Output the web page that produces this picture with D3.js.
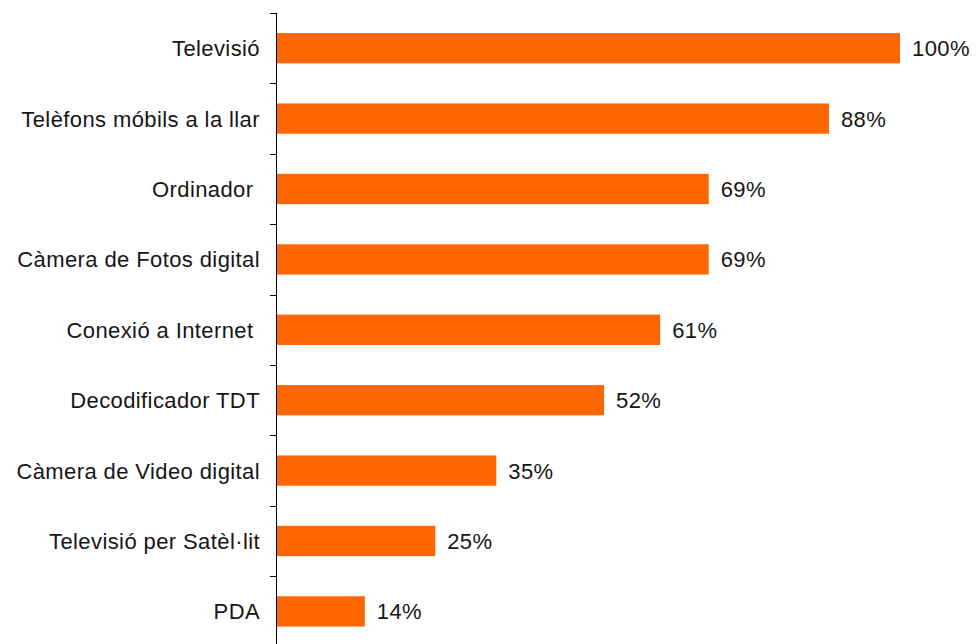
<!DOCTYPE html>
<html><head><meta charset="utf-8">
<script src="https://cdn.jsdelivr.net/npm/d3@7"></script>
<style>body{margin:0;background:#fff}svg text{font-family:"Liberation Sans",Arial,sans-serif;fill:#161616;white-space:pre}</style>
</head><body><svg id="c" width="976" height="644"></svg>
<script>
const categories = ["Televisió","Telèfons móbils a la llar","Ordinador ","Càmera de Fotos digital","Conexió a Internet ","Decodificador TDT","Càmera de Video digital","Televisió per Satèl·lit","PDA"];
const values = [100, 88.6, 69.3, 69.3, 61.5, 52.5, 35.2, 25.4, 14.1];
const labels = ["100%","88%","69%","69%","61%","52%","35%","25%","14%"];

const svg = d3.select("#c");
const x = d3.scaleLinear().domain([0,100]).range([277,900]);
const y = d3.scaleBand().domain(categories).range([13, 646.6]).paddingInner(0.57).paddingOuter(0.285);

const axisX = 276.5;
svg.append("line").attr("x1",axisX).attr("x2",axisX).attr("y1",13).attr("y2",644).attr("stroke","#000").attr("stroke-width",1);
const step = y.step();
const tickPos = d3.range(categories.length+1).map(i => 13 + i*step);
svg.selectAll("line.tk").data(tickPos).join("line").attr("class","tk")
  .attr("x1",270).attr("x2",axisX).attr("y1",d=>Math.round(d)+0.5).attr("y2",d=>Math.round(d)+0.5).attr("stroke","#000");

svg.selectAll("rect.bar").data(categories).join("rect").attr("class","bar")
  .attr("x",x(0)).attr("y",d=>y(d)).attr("height",y.bandwidth())
  .attr("width",(d,i)=>x(values[i])-x(0)).attr("fill","#ff6600");

svg.selectAll("text.cat").data(categories).join("text").attr("class","cat")
  .attr("x",260).attr("y",d=>y(d)+y.bandwidth()/2).attr("dy","0.36em")
  .attr("text-anchor","end").attr("font-size",22).attr("letter-spacing",0.4).text(d=>d);

svg.selectAll("text.val").data(categories).join("text").attr("class","val")
  .attr("x",(d,i)=>x(values[i])+12).attr("y",d=>y(d)+y.bandwidth()/2).attr("dy","0.36em")
  .attr("font-size",22).attr("letter-spacing",0.4).text((d,i)=>labels[i]);
</script></body></html>
